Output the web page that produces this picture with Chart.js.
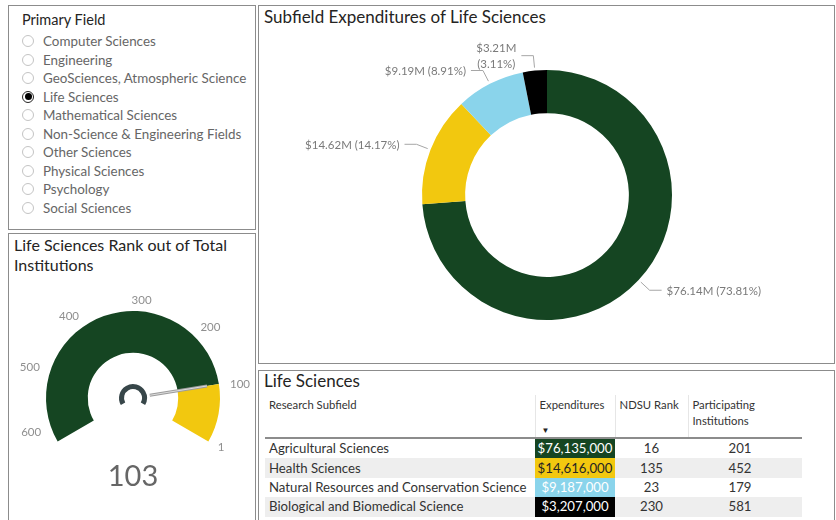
<!DOCTYPE html>
<html>
<head>
<meta charset="utf-8">
<title>Life Sciences Expenditures</title>
<script src="https://cdn.jsdelivr.net/npm/chart.js@4.4.1/dist/chart.umd.min.js"></script>
<style>
  html, body { margin: 0; padding: 0; }
  body {
    width: 836px; height: 520px; overflow: hidden; position: relative;
    background: #fff; color: #252423;
    font-family: Lato, "Open Sans", sans-serif;
  }
  .panel { position: absolute; border: 1px solid #8c8c8c; box-sizing: border-box; }
  #slicer { left: 8px; top: 5px; width: 248px; height: 225px; }
  #gaugePanel { left: 8px; top: 233px; width: 248px; height: 300px; }
  #donutPanel { left: 258px; top: 5px; width: 577px; height: 359px; }
  #tablePanel { left: 258px; top: 370px; width: 577px; height: 160px; }

  .title { position: absolute; font-size: 17px; line-height: 20px; white-space: nowrap; color: #252423; }

  .item { position: absolute; left: 22px; height: 18px; display: flex; align-items: center;
          font-size: 13.4px; color: #666; white-space: nowrap; }
  .radio { width: 12px; height: 12px; border: 1px solid #c4c4c4; border-radius: 50%;
           box-sizing: border-box; margin-right: 9px; position: relative; }
  .radio.on { border-color: #252423; }
  .radio.on::after { content: ''; position: absolute; left: 1.5px; top: 1.5px; width: 7px; height: 7px;
                     border-radius: 50%; background: #000; }

  canvas { position: absolute; }
  #gaugeChart { left: 9px; top: 280px; }
  #donutChart { left: 259px; top: 30px; }

  #tbl { position: absolute; left: 265px; top: 395px; border-collapse: collapse; table-layout: fixed;
         font-size: 13.2px; color: #333; }
  #tbl th { font-weight: normal; font-size: 11.3px; color: #333; text-align: left; vertical-align: top;
            height: 40px; padding: 2px 4px 0 4px; line-height: 16px; border-bottom: 2px solid #8c8c8c;
            position: relative; }
  #tbl th.div { border-right: 1px solid #e6e6e6; }
  #tbl td { height: 19.4px; padding: 0 4px; white-space: nowrap; line-height: 19px; }
  #tbl tr.alt td { background: #eeeeee; }
  #tbl td.exp { text-align: center; padding: 0; }
  #tbl td.num { text-align: center; }
  .sort { position: absolute; left: 6px; top: 27px; font-size: 8px; color: #252423; }
</style>
</head>
<body>
<div class="panel" id="slicer"></div>
<div class="panel" id="gaugePanel"></div>
<div class="panel" id="donutPanel"></div>
<div class="panel" id="tablePanel"></div>

<div class="title" style="left:22px; top:10px; font-size:14.5px;">Primary Field</div>
<div class="title" style="left:14px; top:235px; width:238px; white-space:normal; font-size:16px;">Life Sciences Rank out of Total Institutions</div>
<div class="title" style="left:264px; top:7px;">Subfield Expenditures of Life Sciences</div>
<div class="title" style="left:264px; top:371px;">Life Sciences</div>

<div id="fields"></div>
<canvas id="gaugeChart" width="245" height="230"></canvas>
<canvas id="donutChart" width="574" height="332"></canvas>
<table id="tbl"></table>

<script>
const FONT = 'Lato, "Open Sans", sans-serif';

// slicer
const primaryFields = [
    'Computer Sciences', 'Engineering', 'GeoSciences, Atmospheric Science', 'Life Sciences',
    'Mathematical Sciences', 'Non-Science & Engineering Fields', 'Other Sciences',
    'Physical Sciences', 'Psychology', 'Social Sciences'
];
const selectedField = 'Life Sciences';

// subfields of the selected field
const subfields = [
    'Agricultural Sciences', 'Health Sciences',
    'Natural Resources and Conservation Science', 'Biological and Biomedical Science'
];
const expenditures = [76135000, 14616000, 9187000, 3207000];
const ndsuRank = [16, 135, 23, 230];
const participatingInstitutions = [201, 452, 179, 581];
const subfieldColors = ['#154522', '#F2C80F', '#8AD4EB', '#000000'];
const cellTextColors = ['#ffffff', '#252423', '#ffffff', '#ffffff'];

// gauge
const gaugeMin = 1;
const gaugeMax = 625;
const fieldRank = 103;
const gaugeTicks = [600, 500, 400, 300, 200, 100, 1];
const gaugeColors = ['#154522', '#F2C80F'];

// ---- slicer list
const fieldsEl = document.getElementById('fields');
primaryFields.forEach((name, i) => {
    const row = document.createElement('div');
    row.className = 'item';
    row.style.top = (32 + i * 18.55) + 'px';
    const dot = document.createElement('span');
    dot.className = 'radio' + (name === selectedField ? ' on' : '');
    row.appendChild(dot);
    row.appendChild(document.createTextNode(name));
    fieldsEl.appendChild(row);
});

// ---- table
const money = v => '$' + v.toLocaleString('en-US');
let html = '<colgroup><col style="width:270px"><col style="width:80px"><col style="width:73px"><col style="width:114px"></colgroup>';
html += '<tr><th class="div">Research Subfield</th>'
     + '<th class="div">Expenditures<span class="sort">&#9660;</span></th>'
     + '<th class="div">NDSU Rank</th>'
     + '<th>Participating<br>Institutions</th></tr>';
subfields.forEach((name, i) => {
    html += '<tr' + (i % 2 ? ' class="alt"' : '') + '>'
         + '<td>' + name + '</td>'
         + '<td class="exp" style="background:' + subfieldColors[i] + ';color:' + cellTextColors[i] + '">' + money(expenditures[i]) + '</td>'
         + '<td class="num">' + ndsuRank[i] + '</td>'
         + '<td class="num" style="padding-right:14px">' + participatingInstitutions[i] + '</td></tr>';
});
document.getElementById('tbl').innerHTML = html;

// ---- donut labels: leader line + "$x.xxM (p%)"
const total = expenditures.reduce((a, b) => a + b, 0);
const shortMoney = v => '$' + (Math.round(v / 10000) / 100).toFixed(2) + 'M';
const pct = v => '(' + (v / total * 100).toFixed(2) + '%)';

const donutLabels = {
    id: 'donutLabels',
    afterDatasetsDraw(chart) {
        const ctx = chart.ctx;
        const arcs = chart.getDatasetMeta(0).data;
        ctx.save();
        ctx.font = '11.5px ' + FONT;
        ctx.fillStyle = '#7a7a7a';
        ctx.strokeStyle = '#a6a6a6';
        ctx.lineWidth = 1;
        ctx.textBaseline = 'middle';
        arcs.forEach((arc, i) => {
            const {x, y, startAngle, endAngle, outerRadius} = arc.getProps(['x', 'y', 'startAngle', 'endAngle', 'outerRadius'], true);
            const mid = (startAngle + endAngle) / 2;
            const c = Math.cos(mid), s = Math.sin(mid);
            const x1 = x + c * (outerRadius + 3), y1 = y + s * (outerRadius + 3);
            const x2 = x + c * (outerRadius + 15), y2 = y + s * (outerRadius + 15);
            const side = c >= 0 ? 1 : -1;
            const x3 = x2 + side * 12;
            ctx.beginPath();
            ctx.moveTo(x1, y1);
            ctx.lineTo(x2, y2);
            ctx.lineTo(x3, y2);
            ctx.stroke();
            ctx.textAlign = side > 0 ? 'left' : 'right';
            const tx = x3 + side * 5;
            if (Math.abs(c) < 0.2) {
                // narrow slice near the top: label wraps to two lines
                ctx.textAlign = 'center';
                const w = Math.max(ctx.measureText(shortMoney(expenditures[i])).width, ctx.measureText(pct(expenditures[i])).width);
                const cxText = tx + side * w / 2;
                ctx.fillText(shortMoney(expenditures[i]), cxText, y2 - 7);
                ctx.fillText(pct(expenditures[i]), cxText, y2 + 9);
            } else {
                ctx.fillText(shortMoney(expenditures[i]) + ' ' + pct(expenditures[i]), tx, y2 + 1);
            }
        });
        ctx.restore();
    }
};

new Chart(document.getElementById('donutChart'), {
    type: 'doughnut',
    data: {
        labels: subfields,
        datasets: [{
            data: expenditures,
            backgroundColor: subfieldColors,
            borderWidth: 0
        }]
    },
    options: {
        responsive: false,
        animation: false,
        events: [],
        cutout: '65.5%',
        layout: { padding: { left: 163, right: 161, top: 40, bottom: 42 } },
        plugins: { legend: { display: false }, tooltip: { enabled: false } }
    },
    plugins: [donutLabels]
});

// ---- gauge extras: tick labels, needle, hub, value
const gaugeDecor = {
    id: 'gaugeDecor',
    afterDatasetsDraw(chart) {
        const ctx = chart.ctx;
        const arcs = chart.getDatasetMeta(0).data;
        const cx = arcs[0].x, cy = arcs[0].y;
        const R = arcs[0].outerRadius;
        const start = arcs[0].startAngle;
        const end = arcs[arcs.length - 1].endAngle;
        const angleOf = v => start + (gaugeMax - v) / (gaugeMax - gaugeMin) * (end - start);
        ctx.save();

        ctx.font = '11.5px ' + FONT;
        ctx.fillStyle = '#8f8f8f';
        ctx.textBaseline = 'middle';
        gaugeTicks.forEach(t => {
            const a = angleOf(t);
            const c = Math.cos(a), s = Math.sin(a);
            ctx.textAlign = c > 0.3 ? 'left' : (c < -0.3 ? 'right' : 'center');
            ctx.fillText(String(t), cx + c * (R + 11), cy + s * (R + 11));
        });

        const na = angleOf(fieldRank);
        ctx.lineCap = 'butt';
        ctx.beginPath();
        ctx.moveTo(cx + Math.cos(na) * 17, cy + Math.sin(na) * 17);
        ctx.lineTo(cx + Math.cos(na) * 75, cy + Math.sin(na) * 75);
        ctx.strokeStyle = '#9c9c9c';
        ctx.lineWidth = 3;
        ctx.stroke();
        ctx.strokeStyle = '#dcdcdc';
        ctx.lineWidth = 1;
        ctx.stroke();

        ctx.beginPath();
        ctx.arc(cx, cy, 11.5, start, end);
        ctx.strokeStyle = '#374649';
        ctx.lineWidth = 5;
        ctx.stroke();

        ctx.font = '29px ' + FONT;
        ctx.fillStyle = '#666666';
        ctx.textAlign = 'center';
        ctx.fillText(String(fieldRank), cx, cy + 79);
        ctx.restore();
    }
};

new Chart(document.getElementById('gaugeChart'), {
    type: 'doughnut',
    data: {
        labels: ['Rank to max', 'Min to rank'],
        datasets: [{
            data: [gaugeMax - fieldRank, fieldRank - gaugeMin],
            backgroundColor: gaugeColors,
            borderWidth: 0
        }]
    },
    options: {
        responsive: false,
        animation: false,
        events: [],
        rotation: -120,
        circumference: 240,
        cutout: '52%',
        layout: { padding: { left: 37, right: 34, top: 31, bottom: 68.5 } },
        plugins: { legend: { display: false }, tooltip: { enabled: false } }
    },
    plugins: [gaugeDecor]
});
</script>
</body>
</html>
